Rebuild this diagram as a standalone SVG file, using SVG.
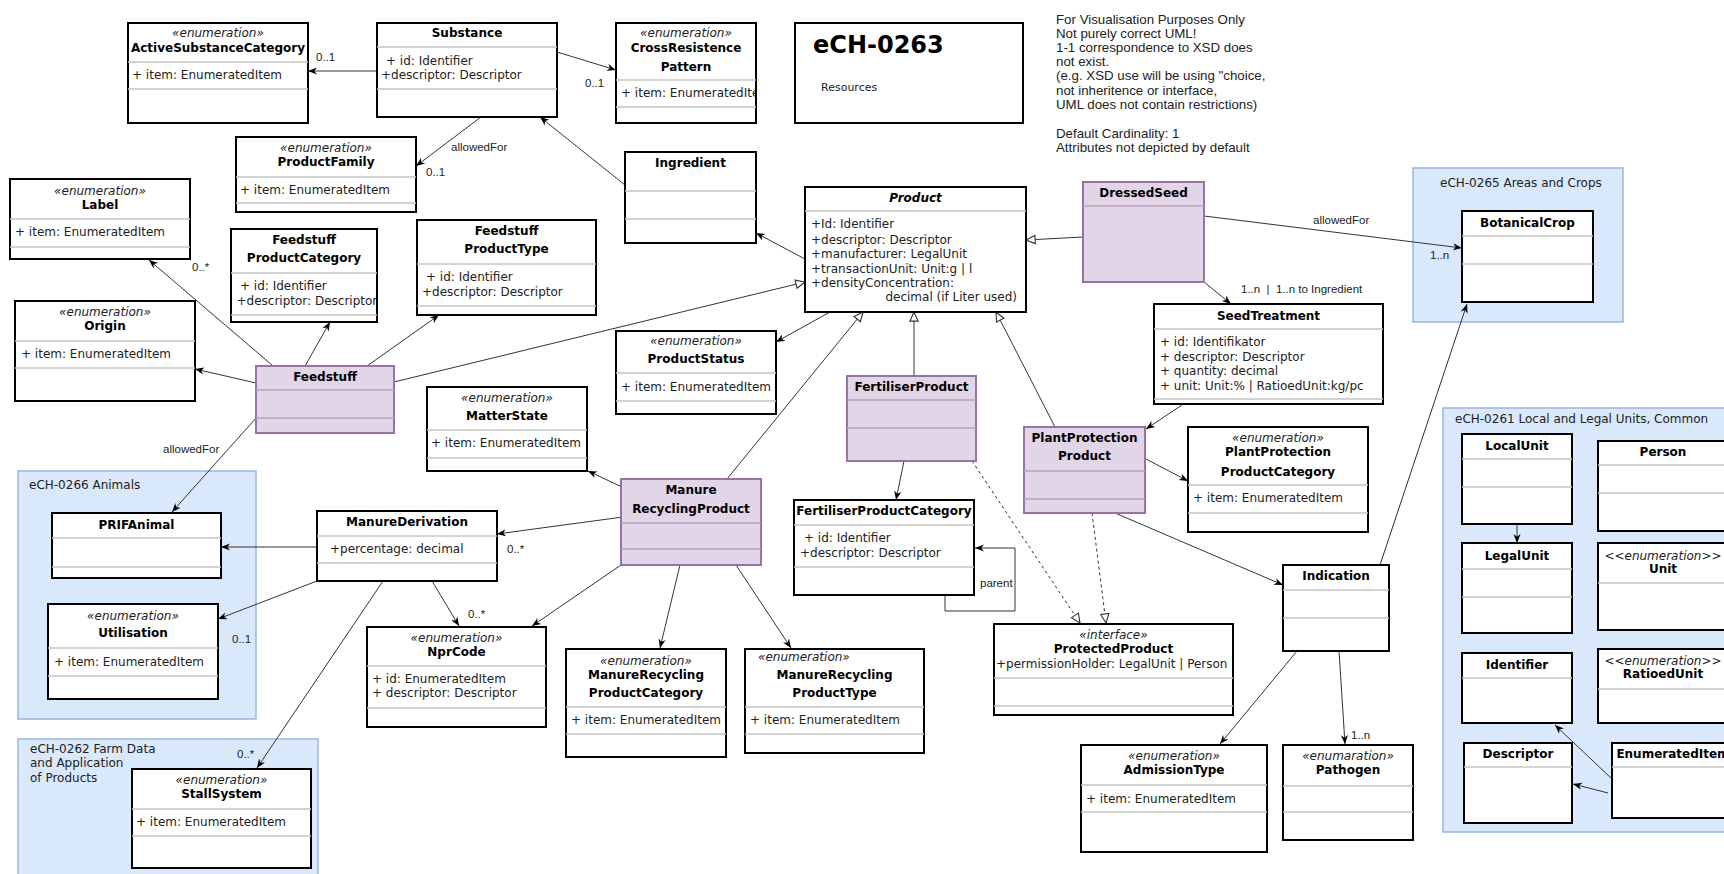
<svg xmlns="http://www.w3.org/2000/svg" width="1724" height="874" viewBox="0 0 1724 874">
<defs>
<style>
.box{fill:#fff;stroke:#000;stroke-width:2}
.pbox{fill:#e1d5e7;stroke:#9673a6;stroke-width:2}
.cont{fill:#dae8fc;stroke:#9ab5e2;stroke-width:1.5}
.sep{stroke:#c4c4c4;stroke-width:1.5}
.psep{stroke:#b3a3bb;stroke-width:1.5}
text{font-family:"DejaVu Sans",Verdana,sans-serif;font-size:12px;fill:#222}
.n{font-weight:bold;text-anchor:middle;fill:#000}
.st{font-style:italic;text-anchor:middle}
.lbl{font-family:"Liberation Sans",Arial,sans-serif;font-size:11.5px;fill:#222}
.note{font-family:"Liberation Sans",Arial,sans-serif;font-size:13.3px;fill:#222}
.e{fill:none;stroke:#333;stroke-width:1}
.d{stroke-dasharray:3 3}
</style>
<marker id="arr" viewBox="0 0 10 10" refX="10" refY="5" markerWidth="9" markerHeight="9" markerUnits="userSpaceOnUse" orient="auto"><path d="M0,1 L10,5 L0,9 L3,5 z" fill="#000"/></marker>
<marker id="gen" viewBox="0 0 12 12" refX="11" refY="6" markerWidth="11" markerHeight="11" markerUnits="userSpaceOnUse" orient="auto"><path d="M1,1.5 L11,6 L1,10.5 z" fill="#fff" stroke="#333" stroke-width="1.2"/></marker>
<clipPath id="clipCR"><rect x="616" y="80" width="139" height="27"/></clipPath>
</defs>
<rect width="1724" height="874" fill="#fff"/>

<!-- containers -->
<g id="eCH-0265">
<rect class="cont" x="1413" y="168" width="210" height="154"/>
<text x="1440" y="187">eCH-0265 Areas and Crops</text>
</g>
<g id="eCH-0261">
<rect class="cont" x="1443" y="408" width="300" height="424"/>
<text x="1455" y="423">eCH-0261 Local and Legal Units, Common</text>
</g>
<g id="eCH-0266">
<rect class="cont" x="18" y="471" width="238" height="248"/>
<text x="29" y="489">eCH-0266 Animals</text>
</g>
<g id="eCH-0262">
<rect class="cont" x="18" y="739" width="300" height="150"/>
<text x="30" y="753">eCH-0262 Farm Data</text>
<text x="30" y="767">and Application</text>
<text x="30" y="782">of Products</text>
</g>

<!-- connectors -->
<g id="connectors">
<path class="e" d="M377,71 L308,71" marker-end="url(#arr)"/>
<text class="lbl" x="316" y="61">0..1</text>
<path class="e" d="M557,52 L616,70" marker-end="url(#arr)"/>
<text class="lbl" x="585" y="87">0..1</text>
<path class="e" d="M481,117 L416,166" marker-end="url(#arr)"/>
<text class="lbl" x="451" y="151">allowedFor</text>
<text class="lbl" x="426" y="176">0..1</text>
<path class="e" d="M625,185 L540,117" marker-end="url(#arr)"/>
<path class="e" d="M805,259 L756,233" marker-end="url(#arr)"/>
<path class="e" d="M394,382 L805,282" marker-end="url(#gen)"/>
<path class="e" d="M1083,237 L1026,240" marker-end="url(#gen)"/>
<path class="e" d="M1204,216 L1462,248" marker-end="url(#arr)"/>
<text class="lbl" x="1313" y="224">allowedFor</text>
<text class="lbl" x="1430" y="259">1..n</text>
<path class="e" d="M1204,282 L1231,304" marker-end="url(#arr)"/>
<text class="lbl" x="1241" y="293">1..n&#160;&#160;|&#160;&#160;1..n to Ingredient</text>
<path class="e" d="M272,365 L149,260" marker-end="url(#arr)"/>
<text class="lbl" x="192" y="271">0..*</text>
<path class="e" d="M256,383 L195,369" marker-end="url(#arr)"/>
<path class="e" d="M305,366 L330,322" marker-end="url(#arr)"/>
<path class="e" d="M367,366 L439,315" marker-end="url(#arr)"/>
<path class="e" d="M257,417 L172,512" marker-end="url(#arr)"/>
<text class="lbl" x="163" y="453">allowedFor</text>
<path class="e" d="M830,312 L776,342" marker-end="url(#arr)"/>
<path class="e" d="M727,479 L863,312" marker-end="url(#gen)"/>
<path class="e" d="M914,376 L914,312" marker-end="url(#gen)"/>
<path class="e" d="M1055,427 L996,312" marker-end="url(#gen)"/>
<path class="e" d="M1182,405 L1146,429" marker-end="url(#arr)"/>
<path class="e" d="M622,487 L588,471" marker-end="url(#arr)"/>
<path class="e" d="M623,517 L497,534" marker-end="url(#arr)"/>
<text class="lbl" x="507" y="553">0..*</text>
<path class="e" d="M317,547 L221,547" marker-end="url(#arr)"/>
<path class="e" d="M317,581 L218,619" marker-end="url(#arr)"/>
<text class="lbl" x="232" y="643">0..1</text>
<path class="e" d="M383,581 L257,768" marker-end="url(#arr)"/>
<text class="lbl" x="237" y="758">0..*</text>
<path class="e" d="M432,581 L459,626" marker-end="url(#arr)"/>
<text class="lbl" x="468" y="618">0..*</text>
<path class="e" d="M621,565 L532,626" marker-end="url(#arr)"/>
<path class="e" d="M680,565 L660,648" marker-end="url(#arr)"/>
<path class="e" d="M736,565 L791,648" marker-end="url(#arr)"/>
<path class="e" d="M904,461 L896,500" marker-end="url(#arr)"/>
<path class="e" d="M945,595 L945,611 L1015,611 L1015,548 L975,548" marker-end="url(#arr)"/>
<text class="lbl" x="980" y="587">parent</text>
<path class="e d" d="M972,461 L1080,623" marker-end="url(#gen)"/>
<path class="e d" d="M1092,513 L1106,623" marker-end="url(#gen)"/>
<path class="e" d="M1146,459 L1188,481" marker-end="url(#arr)"/>
<path class="e" d="M1115,513 L1283,585" marker-end="url(#arr)"/>
<path class="e" d="M1380,565 L1467,304" marker-end="url(#arr)"/>
<path class="e" d="M1297,651 L1220,744" marker-end="url(#arr)"/>
<path class="e" d="M1339,651 L1345,744" marker-end="url(#arr)"/>
<text class="lbl" x="1351" y="739">1..n</text>
<path class="e" d="M1517,524 L1517,543" marker-end="url(#arr)"/>
<path class="e" d="M1611,778 L1555,725" marker-end="url(#arr)"/>
<path class="e" d="M1608,793 L1573,784" marker-end="url(#arr)"/>
</g>

<!-- nodes -->
<g id="ActiveSubstanceCategory">
<rect class="box" x="128" y="23" width="180" height="100"/>
<text class="st" x="218" y="37">«enumeration»</text>
<text class="n" x="218" y="52">ActiveSubstanceCategory</text>
<line class="sep" x1="128" y1="62" x2="308" y2="62"/>
<text x="132" y="79">+ item: EnumeratedItem</text>
<line class="sep" x1="128" y1="89" x2="308" y2="89"/>
</g>
<g id="Substance">
<rect class="box" x="377" y="23" width="180" height="94"/>
<text class="n" x="467" y="37">Substance</text>
<line class="sep" x1="377" y1="47" x2="557" y2="47"/>
<text x="386" y="65">+ id: Identifier</text>
<text x="381" y="79">+descriptor: Descriptor</text>
<line class="sep" x1="377" y1="89" x2="557" y2="89"/>
</g>
<g id="CrossResistencePattern">
<rect class="box" x="616" y="23" width="140" height="100"/>
<text class="st" x="686" y="37">«enumeration»</text>
<text class="n" x="686" y="52">CrossResistence</text>
<text class="n" x="686" y="71">Pattern</text>
<line class="sep" x1="616" y1="80" x2="756" y2="80"/>
<text x="621" y="97" clip-path="url(#clipCR)">+ item: EnumeratedItem</text>
<line class="sep" x1="616" y1="107" x2="756" y2="107"/>
</g>
<g id="Title">
<rect class="box" x="795" y="23" width="228" height="100"/>
<text x="813" y="53" style="font-size:24px;font-weight:bold;fill:#000">eCH-0263</text>
<text x="821" y="91" style="font-size:11px">Resources</text>
</g>
<g id="Notes">
<text class="note" x="1056" y="23.5">For Visualisation Purposes Only</text>
<text class="note" x="1056" y="37.5">Not purely correct UML!</text>
<text class="note" x="1056" y="51.5">1-1 correspondence to XSD does</text>
<text class="note" x="1056" y="66">not exist.</text>
<text class="note" x="1056" y="80">(e.g. XSD use will be using "choice,</text>
<text class="note" x="1056" y="95">not inheritence or interface,</text>
<text class="note" x="1056" y="109">UML does not contain restrictions)</text>
<text class="note" x="1056" y="138">Default Cardinality: 1</text>
<text class="note" x="1056" y="152">Attributes not depicted by default</text>
</g>
<g id="ProductFamily">
<rect class="box" x="236" y="137" width="180" height="75"/>
<text class="st" x="326" y="152">«enumeration»</text>
<text class="n" x="326" y="166">ProductFamily</text>
<line class="sep" x1="236" y1="177" x2="416" y2="177"/>
<text x="240" y="194">+ item: EnumeratedItem</text>
<line class="sep" x1="236" y1="203" x2="416" y2="203"/>
</g>
<g id="Ingredient">
<rect class="box" x="625" y="152" width="131" height="91"/>
<text class="n" x="690.5" y="167">Ingredient</text>
<line class="sep" x1="625" y1="191" x2="756" y2="191"/>
<line class="sep" x1="625" y1="219" x2="756" y2="219"/>
</g>
<g id="Label">
<rect class="box" x="10" y="179" width="180" height="80"/>
<text class="st" x="100" y="195">«enumeration»</text>
<text class="n" x="100" y="209">Label</text>
<line class="sep" x1="10" y1="219" x2="190" y2="219"/>
<text x="15" y="236">+ item: EnumeratedItem</text>
<line class="sep" x1="10" y1="247" x2="190" y2="247"/>
</g>
<g id="FeedstuffProductCategory">
<rect class="box" x="231" y="229" width="146" height="93"/>
<text class="n" x="304" y="244">Feedstuff</text>
<text class="n" x="304" y="262">ProductCategory</text>
<line class="sep" x1="231" y1="273" x2="377" y2="273"/>
<text x="240" y="290">+ id: Identifier</text>
<text x="236.5" y="305">+descriptor: Descriptor</text>
<line class="sep" x1="231" y1="315" x2="377" y2="315"/>
</g>
<g id="FeedstuffProductType">
<rect class="box" x="417" y="220" width="179" height="95"/>
<text class="n" x="506.5" y="235">Feedstuff</text>
<text class="n" x="506.5" y="253">ProductType</text>
<line class="sep" x1="417" y1="264" x2="596" y2="264"/>
<text x="426" y="281">+ id: Identifier</text>
<text x="422" y="296">+descriptor: Descriptor</text>
<line class="sep" x1="417" y1="306" x2="596" y2="306"/>
</g>
<g id="Product">
<rect class="box" x="805" y="187" width="221" height="125"/>
<text class="n" x="915.5" y="202" font-style="italic">Product</text>
<line class="sep" x1="805" y1="211" x2="1026" y2="211"/>
<text x="811" y="228">+Id: Identifier</text>
<text x="811" y="244">+descriptor: Descriptor</text>
<text x="811" y="258">+manufacturer: LegalUnit</text>
<text x="811" y="272.5">+transactionUnit: Unit:g | l</text>
<text x="811" y="287">+densityConcentration:</text>
<text x="1017" y="301" text-anchor="end">decimal (if Liter used)</text>
</g>
<g id="DressedSeed">
<rect class="pbox" x="1083" y="182" width="121" height="100"/>
<text class="n" x="1143.5" y="197">DressedSeed</text>
<line class="psep" x1="1083" y1="206" x2="1204" y2="206"/>
</g>
<g id="BotanicalCrop">
<rect class="box" x="1462" y="211" width="131" height="91"/>
<text class="n" x="1527.5" y="227">BotanicalCrop</text>
<line class="sep" x1="1462" y1="236" x2="1593" y2="236"/>
<line class="sep" x1="1462" y1="264" x2="1593" y2="264"/>
</g>
<g id="Origin">
<rect class="box" x="15" y="301" width="180" height="100"/>
<text class="st" x="105" y="316">«enumeration»</text>
<text class="n" x="105" y="330">Origin</text>
<line class="sep" x1="15" y1="341" x2="195" y2="341"/>
<text x="21" y="358">+ item: EnumeratedItem</text>
<line class="sep" x1="15" y1="368" x2="195" y2="368"/>
</g>
<g id="Feedstuff">
<rect class="pbox" x="256" y="366" width="138" height="67"/>
<text class="n" x="325" y="381">Feedstuff</text>
<line class="psep" x1="256" y1="390" x2="394" y2="390"/>
<line class="psep" x1="256" y1="418" x2="394" y2="418"/>
</g>
<g id="ProductStatus">
<rect class="box" x="616" y="331" width="160" height="83"/>
<text class="st" x="696" y="345">«enumeration»</text>
<text class="n" x="696" y="363">ProductStatus</text>
<line class="sep" x1="616" y1="373" x2="776" y2="373"/>
<text x="621" y="391">+ item: EnumeratedItem</text>
<line class="sep" x1="616" y1="401" x2="776" y2="401"/>
</g>
<g id="SeedTreatment">
<rect class="box" x="1154" y="304" width="229" height="100"/>
<text class="n" x="1268.5" y="320">SeedTreatment</text>
<line class="sep" x1="1154" y1="329" x2="1383" y2="329"/>
<text x="1160" y="346">+ id: Identifikator</text>
<text x="1160" y="361">+ descriptor: Descriptor</text>
<text x="1160" y="375">+ quantity: decimal</text>
<text x="1160" y="390">+ unit: Unit:% | RatioedUnit:kg/pc</text>
<line class="sep" x1="1154" y1="399" x2="1383" y2="399"/>
</g>
<g id="MatterState">
<rect class="box" x="427" y="387" width="160" height="84"/>
<text class="st" x="507" y="402">«enumeration»</text>
<text class="n" x="507" y="420">MatterState</text>
<line class="sep" x1="427" y1="430" x2="587" y2="430"/>
<text x="431" y="447">+ item: EnumeratedItem</text>
<line class="sep" x1="427" y1="458" x2="587" y2="458"/>
</g>
<g id="FertiliserProduct">
<rect class="pbox" x="847" y="376" width="129" height="85"/>
<text class="n" x="911.5" y="391">FertiliserProduct</text>
<line class="psep" x1="847" y1="400" x2="976" y2="400"/>
<line class="psep" x1="847" y1="428" x2="976" y2="428"/>
</g>
<g id="PlantProtectionProduct">
<rect class="pbox" x="1024" y="427" width="121" height="86"/>
<text class="n" x="1084.5" y="442">PlantProtection</text>
<text class="n" x="1084.5" y="460">Product</text>
<line class="psep" x1="1024" y1="471" x2="1145" y2="471"/>
<line class="psep" x1="1024" y1="499" x2="1145" y2="499"/>
</g>
<g id="PlantProtectionProductCategory">
<rect class="box" x="1188" y="427" width="180" height="105"/>
<text class="st" x="1278" y="442">«enumeration»</text>
<text class="n" x="1278" y="456">PlantProtection</text>
<text class="n" x="1278" y="476">ProductCategory</text>
<line class="sep" x1="1188" y1="485" x2="1368" y2="485"/>
<text x="1193" y="502">+ item: EnumeratedItem</text>
<line class="sep" x1="1188" y1="513" x2="1368" y2="513"/>
</g>
<g id="LocalUnit">
<rect class="box" x="1462" y="434" width="110" height="90"/>
<text class="n" x="1517" y="450">LocalUnit</text>
<line class="sep" x1="1462" y1="459" x2="1572" y2="459"/>
<line class="sep" x1="1462" y1="487" x2="1572" y2="487"/>
</g>
<g id="Person">
<rect class="box" x="1598" y="441" width="130" height="90"/>
<text class="n" x="1663" y="456">Person</text>
<line class="sep" x1="1598" y1="465" x2="1728" y2="465"/>
<line class="sep" x1="1598" y1="493" x2="1728" y2="493"/>
</g>
<g id="ManureRecyclingProduct">
<rect class="pbox" x="621" y="479" width="140" height="86"/>
<text class="n" x="691" y="494">Manure</text>
<text class="n" x="691" y="513">RecyclingProduct</text>
<line class="psep" x1="621" y1="523" x2="761" y2="523"/>
<line class="psep" x1="621" y1="549" x2="761" y2="549"/>
</g>
<g id="FertiliserProductCategory">
<rect class="box" x="794" y="500" width="180" height="95"/>
<text class="n" x="884" y="515">FertiliserProductCategory</text>
<line class="sep" x1="794" y1="525" x2="974" y2="525"/>
<text x="804" y="542">+ id: Identifier</text>
<text x="800" y="557">+descriptor: Descriptor</text>
<line class="sep" x1="794" y1="567" x2="974" y2="567"/>
</g>
<g id="ManureDerivation">
<rect class="box" x="317" y="511" width="180" height="70"/>
<text class="n" x="407" y="526">ManureDerivation</text>
<line class="sep" x1="317" y1="536" x2="497" y2="536"/>
<text x="330" y="553">+percentage: decimal</text>
<line class="sep" x1="317" y1="563" x2="497" y2="563"/>
</g>
<g id="PRIFAnimal">
<rect class="box" x="52" y="513" width="169" height="65"/>
<text class="n" x="136.5" y="529">PRIFAnimal</text>
<line class="sep" x1="52" y1="538" x2="221" y2="538"/>
<line class="sep" x1="52" y1="567" x2="221" y2="567"/>
</g>
<g id="LegalUnit">
<rect class="box" x="1462" y="543" width="110" height="90"/>
<text class="n" x="1517" y="560">LegalUnit</text>
<line class="sep" x1="1462" y1="569" x2="1572" y2="569"/>
<line class="sep" x1="1462" y1="597" x2="1572" y2="597"/>
</g>
<g id="Unit">
<rect class="box" x="1598" y="543" width="130" height="87"/>
<text class="st" x="1663" y="560">&lt;&lt;enumeration&gt;&gt;</text>
<text class="n" x="1663" y="573">Unit</text>
<line class="sep" x1="1598" y1="583" x2="1728" y2="583"/>
</g>
<g id="Indication">
<rect class="box" x="1283" y="565" width="106" height="86"/>
<text class="n" x="1336" y="580">Indication</text>
<line class="sep" x1="1283" y1="590" x2="1389" y2="590"/>
<line class="sep" x1="1283" y1="618" x2="1389" y2="618"/>
</g>
<g id="Utilisation">
<rect class="box" x="48" y="604" width="170" height="95"/>
<text class="st" x="133" y="620">«enumeration»</text>
<text class="n" x="133" y="637">Utilisation</text>
<line class="sep" x1="48" y1="648" x2="218" y2="648"/>
<text x="54" y="666">+ item: EnumeratedItem</text>
<line class="sep" x1="48" y1="676" x2="218" y2="676"/>
</g>
<g id="ProtectedProduct">
<rect class="box" x="994" y="624" width="239" height="91"/>
<text class="st" x="1113.5" y="639">«interface»</text>
<text class="n" x="1113.5" y="653">ProtectedProduct</text>
<text x="996" y="668">+permissionHolder: LegalUnit | Person</text>
<line class="sep" x1="994" y1="678" x2="1233" y2="678"/>
<line class="sep" x1="994" y1="706" x2="1233" y2="706"/>
</g>
<g id="NprCode">
<rect class="box" x="367" y="627" width="179" height="100"/>
<text class="st" x="456.5" y="642">«enumeration»</text>
<text class="n" x="456.5" y="656">NprCode</text>
<line class="sep" x1="367" y1="666" x2="546" y2="666"/>
<text x="372" y="683">+ id: EnumeratedItem</text>
<text x="372" y="697">+ descriptor: Descriptor</text>
<line class="sep" x1="367" y1="708" x2="546" y2="708"/>
</g>
<g id="ManureRecyclingProductCategory">
<rect class="box" x="566" y="649" width="160" height="108"/>
<text class="st" x="646" y="665">«enumeration»</text>
<text class="n" x="646" y="679">ManureRecycling</text>
<text class="n" x="646" y="697">ProductCategory</text>
<line class="sep" x1="566" y1="707" x2="726" y2="707"/>
<text x="571" y="724">+ item: EnumeratedItem</text>
<line class="sep" x1="566" y1="734" x2="726" y2="734"/>
</g>
<g id="ManureRecyclingProductType">
<rect class="box" x="745" y="649" width="179" height="104"/>
<text x="758" y="661" font-style="italic">«enumeration»</text>
<text class="n" x="834.5" y="679">ManureRecycling</text>
<text class="n" x="834.5" y="697">ProductType</text>
<line class="sep" x1="745" y1="707" x2="924" y2="707"/>
<text x="750" y="724">+ item: EnumeratedItem</text>
<line class="sep" x1="745" y1="734" x2="924" y2="734"/>
</g>
<g id="Identifier">
<rect class="box" x="1462" y="653" width="110" height="70"/>
<text class="n" x="1517" y="669">Identifier</text>
<line class="sep" x1="1462" y1="678" x2="1572" y2="678"/>
</g>
<g id="RatioedUnit">
<rect class="box" x="1598" y="649" width="130" height="74"/>
<text class="st" x="1663" y="665">&lt;&lt;enumeration&gt;&gt;</text>
<text class="n" x="1663" y="678">RatioedUnit</text>
<line class="sep" x1="1598" y1="689" x2="1728" y2="689"/>
</g>
<g id="Descriptor">
<rect class="box" x="1464" y="743" width="108" height="80"/>
<text class="n" x="1518" y="758">Descriptor</text>
<line class="sep" x1="1464" y1="767" x2="1572" y2="767"/>
</g>
<g id="EnumeratedItem">
<rect class="box" x="1612" y="743" width="122" height="75"/>
<text class="n" x="1673" y="758">EnumeratedItem</text>
<line class="sep" x1="1612" y1="767" x2="1734" y2="767"/>
</g>
<g id="AdmissionType">
<rect class="box" x="1081" y="745" width="186" height="107"/>
<text class="st" x="1174" y="760">«enumeration»</text>
<text class="n" x="1174" y="774">AdmissionType</text>
<line class="sep" x1="1081" y1="785" x2="1267" y2="785"/>
<text x="1086" y="803">+ item: EnumeratedItem</text>
<line class="sep" x1="1081" y1="812" x2="1267" y2="812"/>
</g>
<g id="Pathogen">
<rect class="box" x="1283" y="745" width="130" height="95"/>
<text class="st" x="1348" y="760">«enumaration»</text>
<text class="n" x="1348" y="774">Pathogen</text>
<line class="sep" x1="1283" y1="786" x2="1413" y2="786"/>
<line class="sep" x1="1283" y1="812" x2="1413" y2="812"/>
</g>
<g id="StallSystem">
<rect class="box" x="132" y="769" width="179" height="99"/>
<text class="st" x="221.5" y="784">«enumeration»</text>
<text class="n" x="221.5" y="798">StallSystem</text>
<line class="sep" x1="132" y1="809" x2="311" y2="809"/>
<text x="136" y="826">+ item: EnumeratedItem</text>
<line class="sep" x1="132" y1="836" x2="311" y2="836"/>
</g>
</svg>
